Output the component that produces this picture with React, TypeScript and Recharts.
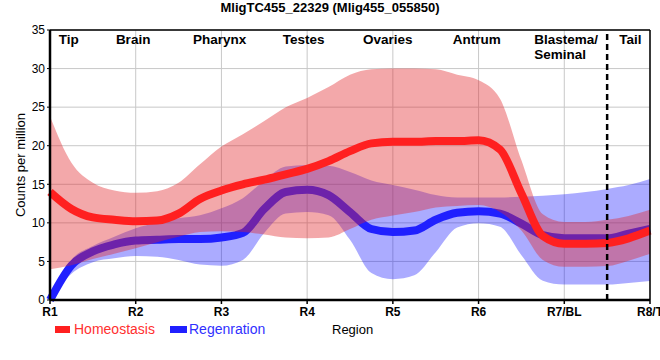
import React from 'react';
import {
  ComposedChart, Line, Area, XAxis, YAxis, CartesianGrid, ReferenceLine,
} from 'recharts';

const title = 'MligTC455_22329 (Mlig455_055850)';
const categories = ['R1', 'R2', 'R3', 'R4', 'R5', 'R6', 'R7/BL', 'R8/T'];
const yTicks = [0, 5, 10, 15, 20, 25, 30, 35];

const xs = [0, 0.25, 0.5, 0.75, 1, 1.25, 1.5, 1.75, 2, 2.25, 2.5, 2.75, 3, 3.25, 3.5, 3.75,
  4, 4.25, 4.5, 4.75, 5, 5.25, 5.5, 5.75, 6, 6.25, 6.5, 6.75, 7];

const homeoMean = [14.0, 11.8, 10.7, 10.4, 10.2, 10.3, 11.2, 13.1, 14.2, 15.0, 15.6, 16.3, 17.0, 18.0, 19.3, 20.3,
  20.5, 20.5, 20.6, 20.6, 20.7, 19.5, 13.8, 8.3, 7.3, 7.3, 7.4, 8.0, 9.0];
const homeoHigh = [23.8, 17.8, 15.2, 14.2, 13.9, 14.1, 15.2, 17.6, 19.9, 21.5, 23.2, 25.0, 26.2, 27.6, 29.2, 29.9,
  30.0, 30.0, 29.9, 29.2, 28.5, 26.1, 18.1, 11.1, 10.1, 10.1, 10.4, 10.9, 11.7];
const homeoLow = [4.0, 4.5, 5.3, 6.0, 6.7, 7.5, 8.2, 8.8, 8.9, 8.8, 8.5, 8.1, 8.0, 8.1, 9.2, 10.4,
  10.95, 11.4, 12.0, 12.2, 12.3, 11.4, 9.0, 5.2, 4.3, 4.3, 4.4, 5.1, 6.0];

const regenMean = [0, 4.5, 6.3, 7.2, 7.7, 7.8, 7.9, 7.9, 8.1, 8.7, 11.8, 14.0, 14.3, 13.6, 11.4, 9.2,
  8.8, 9.0, 10.4, 11.3, 11.5, 11.2, 9.9, 8.4, 8.0, 8.0, 8.0, 8.6, 9.2];
const regenHigh = [0, 5.2, 7.0, 8.2, 9.3, 10.0, 10.6, 11.0, 11.9, 13.2, 15.5, 17.3, 17.5, 17.4, 16.6, 15.5,
  14.9, 14.3, 13.6, 13.3, 13.3, 13.3, 13.4, 13.5, 13.7, 14.0, 14.4, 14.9, 15.7];
const regenLow = [0, 3.4, 4.9, 5.4, 5.7, 5.6, 5.2, 4.6, 4.45, 5.2, 8.7, 11.2, 11.4, 11.0, 7.8, 3.5,
  2.7, 3.2, 6.2, 9.4, 9.95, 9.5, 5.8, 2.5, 2.0, 2.0, 2.0, 2.2, 2.45];

const regionNames = ['Tip', 'Brain', 'Pharynx', 'Testes', 'Ovaries', 'Antrum', 'Blastema/|Seminal', 'Tail'];
const regionPos = [0.22, 0.97, 1.98, 2.96, 3.94, 4.98, 5.65, 6.77];

const data = xs.map((x, i) => ({
  x,
  hm: homeoMean[i],
  hr: [homeoLow[i], homeoHigh[i]],
  rm: regenMean[i],
  rr: [regenLow[i], regenHigh[i]],
}));

const FONT = '"Liberation Sans", Arial, sans-serif';

const regionLabel = (name: string, anchorStart: boolean) => (props: any) => {
  const vb = props.viewBox || {};
  const lines = name.split('|');
  return (
    <text
      x={vb.x}
      y={44}
      textAnchor={anchorStart ? 'start' : 'middle'}
      fontFamily={FONT}
      fontWeight="bold"
      fontSize={13.5}
      fill="#000"
    >
      {lines.map((l, i) => (
        <tspan key={i} x={vb.x} dy={i === 0 ? 0 : 15}>{l}</tspan>
      ))}
    </text>
  );
};

export default function App() {
  return (
    <div style={{ position: 'absolute', left: 0, top: 0, width: 660, height: 360, background: '#fff', overflow: 'hidden' }}>
      <div style={{
        position: 'absolute', left: 0, top: 0, width: 660, textAlign: 'center',
        fontFamily: FONT, fontWeight: 'bold', fontSize: 13, lineHeight: '16px', color: '#000',
      }}>{title}</div>
      <ComposedChart
        width={660}
        height={360}
        data={data}
        margin={{ top: 30, right: 10, bottom: 30, left: 0 }}
      >
        <CartesianGrid stroke="#c8c8c8" strokeWidth={1} />
        <XAxis
          dataKey="x"
          type="number"
          domain={[0, 7]}
          ticks={[0, 1, 2, 3, 4, 5, 6, 7]}
          tickFormatter={(v: number) => categories[v]}
          interval={0}
          axisLine={{ stroke: '#000', strokeWidth: 2.5 }}
          tickLine={{ stroke: '#000', strokeWidth: 1.5 }}
          tickSize={4}
          tickMargin={3}
          tick={{ fill: '#000', fontFamily: FONT, fontSize: 12, fontWeight: 'bold' }}
          height={30}
        />
        <YAxis
          type="number"
          domain={[0, 35]}
          ticks={yTicks}
          interval={0}
          width={50}
          axisLine={{ stroke: '#000', strokeWidth: 2.5 }}
          tickLine={{ stroke: '#000', strokeWidth: 1 }}
          tickSize={3}
          tickMargin={2}
          tick={{ fill: '#000', fontFamily: FONT, fontSize: 12 }}
          label={() => (
            <text
              x={20}
              y={165}
              transform="rotate(-90 20 165)"
              textAnchor="middle"
              dominantBaseline="central"
              fontFamily={FONT}
              fontSize={13}
              fill="#000"
            >Counts per million</text>
          )}
        />
        <Area
          type="monotone"
          dataKey="rr"
          stroke="none"
          fill="#0000ff"
          fillOpacity={0.33}
          isAnimationActive={false}
          activeDot={false}
          zIndex={100}
        />
        <Line
          type="monotone"
          dataKey="rm"
          stroke="#2020ff"
          strokeWidth={8}
          dot={false}
          activeDot={false}
          isAnimationActive={false}
          zIndex={101}
        />
        <Area
          type="monotone"
          dataKey="hr"
          stroke="none"
          fill="#e0262b"
          fillOpacity={0.4}
          isAnimationActive={false}
          activeDot={false}
          zIndex={102}
        />
        <Line
          type="monotone"
          dataKey="hm"
          stroke="#ff2020"
          strokeWidth={8}
          dot={false}
          activeDot={false}
          isAnimationActive={false}
          zIndex={103}
        />
        <ReferenceLine y={35} stroke="#000" strokeWidth={1.5} zIndex={110} />
        <ReferenceLine x={7} stroke="#000" strokeWidth={1.5} zIndex={110} />
        <ReferenceLine x={6.5} stroke="#000" strokeWidth={2.5} strokeDasharray="6 4" zIndex={110} />
        {regionNames.map((n, i) => (
          <ReferenceLine
            key={n}
            x={regionPos[i]}
            stroke="none"
            label={regionLabel(n, i === 6)}
            zIndex={110}
          />
        ))}
      </ComposedChart>
      <div style={{ position: 'absolute', left: 0, top: 318, width: 660, height: 24, fontFamily: FONT }}>
        <div style={{ position: 'absolute', left: 55, top: 8, width: 15, height: 7, background: '#ff2020' }} />
        <div style={{ position: 'absolute', left: 74, top: 3, fontSize: 14, color: '#ff3030', whiteSpace: 'nowrap' }}>Homeostasis</div>
        <div style={{ position: 'absolute', left: 170, top: 8, width: 17, height: 7, background: '#2020ff' }} />
        <div style={{ position: 'absolute', left: 189, top: 3, fontSize: 14, color: '#3030ff', whiteSpace: 'nowrap' }}>Regenration</div>
        <div style={{ position: 'absolute', left: 332, top: 4, fontSize: 13, color: '#000', whiteSpace: 'nowrap' }}>Region</div>
      </div>
    </div>
  );
}
